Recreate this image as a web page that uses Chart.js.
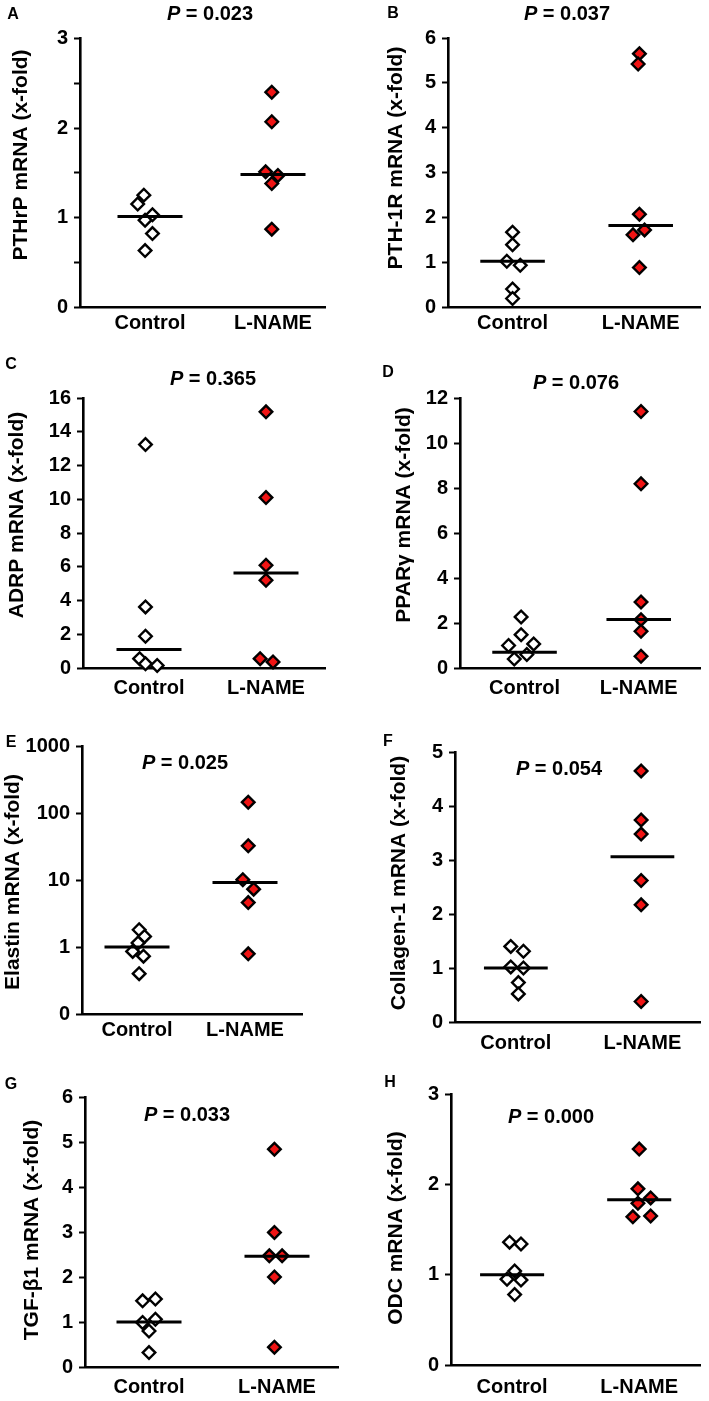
<!DOCTYPE html>
<html>
<head>
<meta charset="utf-8">
<script src="https://cdn.jsdelivr.net/npm/chart.js@4.4.1/dist/chart.umd.min.js"></script>
<style>
html, body { margin: 0; padding: 0; background: #ffffff; }
#wrap { position: relative; width: 709px; height: 1401px; overflow: hidden; }
#wrap canvas { position: absolute; left: 0; top: 0; }
</style>
</head>
<body>
<div id="wrap"></div>
<script>
// ---------------- DATA ----------------
const categories = ['Control', 'L-NAME'];
const panelLetters = ['A', 'B', 'C', 'D', 'E', 'F', 'G', 'H'];
const yTitles = ['PTHrP mRNA (x-fold)', 'PTH-1R mRNA (x-fold)', 'ADRP mRNA (x-fold)', 'PPARγ mRNA (x-fold)',
                 'Elastin mRNA (x-fold)', 'Collagen-1 mRNA (x-fold)', 'TGF-β1 mRNA (x-fold)', 'ODC mRNA (x-fold)'];
const pValues = ['0.023', '0.037', '0.365', '0.076', '0.025', '0.054', '0.033', '0.000'];

// individual values (x-fold), Control and L-NAME groups
const pthrpControl = [1.25, 1.15, 1.03, 0.97, 0.82, 0.63];
const pthrpLname   = [2.40, 2.07, 1.51, 1.47, 1.38, 0.87];
const pth1rControl = [1.67, 1.39, 1.02, 0.93, 0.40, 0.19];
const pth1rLname   = [5.65, 5.42, 2.07, 1.72, 1.61, 0.88];
const adrpControl  = [13.24, 3.62, 1.88, 0.55, 0.25, 0.15];
const adrpLname    = [15.18, 10.1, 6.09, 5.2, 0.55, 0.36];
const ppargControl = [2.27, 1.48, 1.07, 1.0, 0.6, 0.4];
const ppargLname   = [11.4, 8.19, 2.93, 2.15, 1.63, 0.52];
const elastinControl = [1.81, 1.44, 1.15, 0.86, 0.73, 0.40];
const elastinLname   = [145, 32.4, 10.1, 7.3, 4.6, 0.79];
const col1Control  = [1.40, 1.31, 1.02, 1.0, 0.73, 0.52];
const col1Lname    = [4.65, 3.74, 3.48, 2.62, 2.17, 0.38];
const tgfControl   = [1.51, 1.47, 1.06, 0.99, 0.80, 0.32];
const tgfLname     = [4.84, 2.99, 2.47, 2.47, 2.0, 0.44];
const odcControl   = [1.36, 1.34, 1.04, 0.95, 0.94, 0.78];
const odcLname     = [2.39, 1.95, 1.85, 1.79, 1.65, 1.64];

// horizontal jitter of each point (in category units)
const pthrpControlDx = [-0.05, -0.10, 0.02, -0.04, 0.02, -0.04];
const pthrpLnameDx   = [-0.01, -0.01, -0.06, 0.04, -0.01, -0.01];
const pth1rControlDx = [0, 0, -0.045, 0.06, 0, 0];
const pth1rLnameDx   = [-0.01, -0.02, -0.01, 0.03, -0.06, -0.01];
const adrpControlDx  = [-0.03, -0.03, -0.03, -0.08, -0.03, 0.07];
const adrpLnameDx    = [0, 0, 0, 0, -0.05, 0.06];
const ppargControlDx = [-0.03, -0.03, 0.08, -0.14, 0.02, -0.09];
const ppargLnameDx   = [0.02, 0.02, 0.02, 0.02, 0.02, 0.02];
const elastinControlDx = [0.02, 0.07, 0.01, -0.04, 0.06, 0.02];
const elastinLnameDx   = [0.03, 0.03, -0.02, 0.08, 0.03, 0.03];
const col1ControlDx  = [-0.04, 0.06, -0.04, 0.06, 0.02, 0.02];
const col1LnameDx    = [-0.01, -0.01, -0.01, -0.01, -0.01, -0.01];
const tgfControlDx   = [0.05, -0.05, 0.05, -0.05, 0, 0];
const tgfLnameDx     = [-0.02, -0.02, -0.06, 0.04, -0.02, -0.02];
const odcControlDx   = [-0.02, 0.07, 0.02, -0.04, 0.07, 0.02];
const odcLnameDx     = [0, -0.01, 0.09, -0.01, 0.09, -0.05];

// median bars [Control, L-NAME]
const medianPthrp   = [1.01, 1.48];
const medianPth1r   = [1.02, 1.82];
const medianAdrp    = [1.1, 5.63];
const medianPparg   = [0.70, 2.16];
const medianElastin = [1.0, 9.2];
const medianCol1    = [1.0, 3.06];
const medianTgf     = [1.0, 2.46];
const medianOdc     = [1.0, 1.83];

// y axis ranges / ticks
const yMax  = [3, 6, 16, 12, 1000, 5, 6, 3];
const yStep = [0.5, 1, 2, 2, null, 1, 1, 1];
const logTicks = [0.1, 1, 10, 100, 1000];
const logTickLabels = ['0', '1', '10', '100', '1000'];

const controlSets = [pthrpControl, pth1rControl, adrpControl, ppargControl, elastinControl, col1Control, tgfControl, odcControl];
const lnameSets   = [pthrpLname, pth1rLname, adrpLname, ppargLname, elastinLname, col1Lname, tgfLname, odcLname];
const controlDx   = [pthrpControlDx, pth1rControlDx, adrpControlDx, ppargControlDx, elastinControlDx, col1ControlDx, tgfControlDx, odcControlDx];
const lnameDx     = [pthrpLnameDx, pth1rLnameDx, adrpLnameDx, ppargLnameDx, elastinLnameDx, col1LnameDx, tgfLnameDx, odcLnameDx];
const medians     = [medianPthrp, medianPth1r, medianAdrp, medianPparg, medianElastin, medianCol1, medianTgf, medianOdc];

// ---------------- LAYOUT (pixel geometry of each panel) ----------------
const layout = [
  { x0: 80,  yTop: 38.5, y0: 307,  xR: 325, c1: 150, c2: 273, letter: [13, 15],   title: [210, 14],   ytitle: [21, 155],  pad: 4 },
  { x0: 448, yTop: 38,   y0: 307,  xR: 702, c1: 513, c2: 642, letter: [393, 14],  title: [567, 14],   ytitle: [396, 158], pad: 4 },
  { x0: 83,  yTop: 398,  y0: 668,  xR: 325, c1: 149, c2: 266, letter: [11, 365],  title: [213, 379],  ytitle: [17, 515],  pad: 8 },
  { x0: 460, yTop: 398,  y0: 668,  xR: 702, c1: 525, c2: 640, letter: [388, 373], title: [576, 383],  ytitle: [404, 515], pad: 8 },
  { x0: 82,  yTop: 746,  y0: 1014, xR: 302, c1: 137, c2: 245, letter: [11, 743],  title: [185, 763],  ytitle: [13, 882],  pad: 4 },
  { x0: 455, yTop: 752,  y0: 1022, xR: 705, c1: 517, c2: 646, letter: [388, 742], title: [559, 769],  ytitle: [399, 883], pad: 9 },
  { x0: 85,  yTop: 1097, y0: 1367, xR: 338, c1: 149, c2: 277, letter: [11, 1085], title: [187, 1115], ytitle: [32, 1230], pad: 8 },
  { x0: 451, yTop: 1094, y0: 1365, xR: 704, c1: 513, c2: 642, letter: [390, 1083],title: [551, 1117], ytitle: [396, 1228],pad: 10 }
];

const W = 709, H = 1401;
const FAM = '"Liberation Sans", Arial, Helvetica, sans-serif';
const RED = '#f01414';
const XAXIS_H = 40;

function textPlugin(i) {
  return {
    id: 'panelText' + i,
    afterDraw(chart) {
      const ctx = chart.ctx;
      const L = layout[i];
      ctx.save();
      ctx.fillStyle = '#000';
      ctx.textBaseline = 'middle';
      // panel letter
      ctx.font = 'bold 16px ' + FAM;
      ctx.textAlign = 'center';
      ctx.fillText(panelLetters[i], L.letter[0], L.letter[1]);
      // P value title: italic P + regular bold rest
      const fP = 'italic bold 20px ' + FAM;
      const fR = 'bold 20px ' + FAM;
      const rest = ' = ' + pValues[i];
      ctx.font = fP; const wP = ctx.measureText('P').width;
      ctx.font = fR; const wR = ctx.measureText(rest).width;
      const sx = L.title[0] - (wP + wR) / 2;
      ctx.textAlign = 'left';
      ctx.font = fP; ctx.fillText('P', sx, L.title[1]);
      ctx.font = fR; ctx.fillText(rest, sx + wP, L.title[1]);
      // rotated y title
      ctx.translate(L.ytitle[0], L.ytitle[1]);
      ctx.rotate(-Math.PI / 2);
      ctx.font = 'bold 21px ' + FAM;
      ctx.textAlign = 'center';
      ctx.fillText(yTitles[i], 0, 0);
      ctx.restore();
    }
  };
}

function makeChart(i) {
  const L = layout[i];
  const cv = document.createElement('canvas');
  cv.width = W; cv.height = H;
  cv.style.width = W + 'px'; cv.style.height = H + 'px';
  document.getElementById('wrap').appendChild(cv);

  const unit = L.c2 - L.c1;
  const xmin = 1 - (L.c1 - L.x0) / unit;
  const xmax = 2 + (L.xR - L.c2) / unit;
  const half = 32.5 / unit;
  const isLog = yStep[i] === null;
  const med = medians[i];

  const lineStyle = { type: 'line', borderColor: '#000', borderWidth: 3, pointRadius: 0, fill: false, clip: false };
  const pointStyle = { type: 'scatter', pointStyle: 'rectRot', pointRadius: 6.3, pointHoverRadius: 6.3,
                       borderColor: '#000', borderWidth: 2.4, clip: false };

  const datasets = [
    Object.assign({ data: [{ x: 1 - half, y: med[0] }, { x: 1 + half, y: med[0] }] }, lineStyle),
    Object.assign({ data: [{ x: 2 - half, y: med[1] }, { x: 2 + half, y: med[1] }] }, lineStyle),
    Object.assign({ data: lnameSets[i].map((v, k) => ({ x: 2 + lnameDx[i][k], y: v })), backgroundColor: RED }, pointStyle),
    Object.assign({ data: controlSets[i].map((v, k) => ({ x: 1 + controlDx[i][k], y: v })), backgroundColor: '#ffffff' }, pointStyle)
  ];

  const tickFont = { family: FAM, size: 20, weight: 'bold' };

  const yScale = isLog ? {
    type: 'logarithmic', min: 0.1, max: yMax[i],
    afterBuildTicks: s => { s.ticks = logTicks.map(v => ({ value: v })); },
    ticks: { callback: (v, idx) => logTickLabels[idx], color: '#000', font: tickFont, padding: 6, autoSkip: false }
  } : {
    type: 'linear', min: 0, max: yMax[i],
    ticks: { stepSize: yStep[i], callback: v => (Number.isInteger(v) ? String(v) : ''), color: '#000', font: tickFont, padding: 6, autoSkip: false }
  };
  Object.assign(yScale, {
    grid: { display: true, drawOnChartArea: false, drawTicks: true, tickLength: 6, tickWidth: 2, tickColor: '#000' },
    border: { display: true, color: '#000', width: 2.6 },
    afterFit: s => { s.width = L.x0; }
  });

  new Chart(cv, {
    data: { datasets },
    plugins: [textPlugin(i)],
    options: {
      responsive: false,
      animation: false,
      events: [],
      layout: { padding: { left: 0, top: L.yTop, right: W - L.xR, bottom: H - L.y0 - XAXIS_H } },
      plugins: { legend: { display: false }, tooltip: { enabled: false }, title: { display: false } },
      scales: {
        x: {
          type: 'linear', min: xmin, max: xmax,
          afterBuildTicks: s => { s.ticks = [{ value: 1 }, { value: 2 }]; },
          ticks: { callback: (v, idx) => categories[idx], color: '#000', font: tickFont, padding: L.pad, maxRotation: 0, autoSkip: false },
          grid: { display: true, drawOnChartArea: false, drawTicks: false },
          border: { display: true, color: '#000', width: 2.6 },
          afterFit: s => { s.height = XAXIS_H; }
        },
        y: yScale
      }
    }
  });
}

for (let i = 0; i < 8; i++) makeChart(i);
</script>
</body>
</html>
